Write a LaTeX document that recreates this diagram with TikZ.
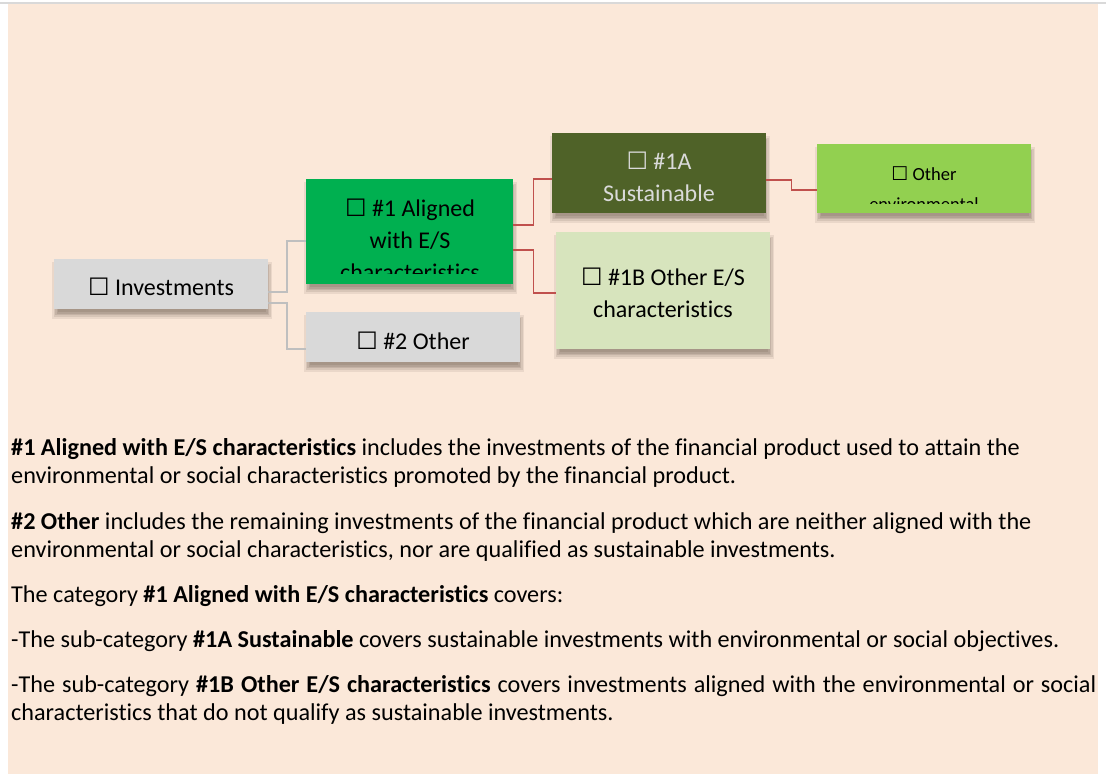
\documentclass[tikz,border=0pt]{standalone}
\usepackage{fontspec}
\setmainfont{Carlito}[Ligatures={NoCommon}]
\newfontfamily\symfont{DejaVu Sans}
\pgfdeclarelayer{bg}
\pgfdeclarelayer{shadow}
\pgfsetlayers{bg,shadow,main}
\definecolor{peach}{HTML}{FBE8D9}
\definecolor{topgrey}{HTML}{D9D9D9}
\definecolor{boxgrey}{HTML}{D9D9D9}
\definecolor{green1}{HTML}{00B050}
\definecolor{olive}{HTML}{4F6228}
\definecolor{paleg}{HTML}{D7E4BD}
\definecolor{limeg}{HTML}{92D050}
\definecolor{lightxt}{HTML}{DADADA}
\definecolor{gconn}{HTML}{BFBFBF}
\definecolor{rconn}{HTML}{C0504D}
\definecolor{shadowcol}{HTML}{5A4A40}
\newcommand{\cbx}{{\symfont\fontsize{24}{24}\selectfont\char"2610}}
\newcommand{\cbs}{{\symfont\fontsize{19}{19}\selectfont\char"2610}}
\newcommand{\shad}[1]{%
  \begin{pgfonlayer}{shadow}
  \fill[shadowcol,opacity=0.15] ([xshift=4pt,yshift=-9pt]#1.north west) rectangle ([xshift=-2pt,yshift=-3pt]#1.south east);
  \fill[shadowcol,opacity=0.15] ([xshift=2.5pt,yshift=-7.5pt]#1.north west) rectangle ([xshift=-0.5pt,yshift=-4.5pt]#1.south east);
  \fill[shadowcol,opacity=0.15] ([xshift=1pt,yshift=-6pt]#1.north west) rectangle ([xshift=1pt,yshift=-6pt]#1.south east);
  \fill[shadowcol,opacity=0.13] ([xshift=-0.5pt,yshift=-4.5pt]#1.north west) rectangle ([xshift=2.5pt,yshift=-7.5pt]#1.south east);
  \fill[shadowcol,opacity=0.1] ([xshift=-2pt,yshift=-3pt]#1.north west) rectangle ([xshift=4pt,yshift=-9.5pt]#1.south east);
  \end{pgfonlayer}}
\tikzset{
  box/.style={rectangle, inner sep=0pt, anchor=north west, draw=none},
  btxt/.style={inner sep=0pt, anchor=base, font=\fontsize{24}{28}\selectfont},
  stxt/.style={inner sep=0pt, anchor=base, font=\fontsize{18.5}{22}\selectfont},
  para/.style={inner sep=0pt, anchor=base west, font=\fontsize{24.2}{28}\selectfont},
  gline/.style={draw=gconn, line width=2pt},
  rline/.style={draw=rconn, line width=1.8pt},
}
\begin{document}
\begin{tikzpicture}[x=1pt,y=-1pt]
\useasboundingbox (0,0) rectangle (1106,776);
\begin{pgfonlayer}{bg}
\fill[white] (0,0) rectangle (1106,776);
\fill[topgrey] (0,1.7) rectangle (1106,4);
\fill[peach] (8,4) rectangle (1098,774);
\end{pgfonlayer}

% boxes
\node[box, fill=boxgrey, minimum width=214pt, minimum height=50pt] (inv) at (54,259) {};
\node[box, fill=green1, minimum width=207pt, minimum height=105pt] (a1) at (306,179) {};
\node[box, fill=boxgrey, minimum width=214pt, minimum height=50pt] (o2) at (306,312) {};
\node[box, fill=olive, minimum width=214pt, minimum height=80pt] (s1a) at (552,133) {};
\node[box, fill=paleg, minimum width=214pt, minimum height=117pt] (o1b) at (556,232) {};
\node[box, fill=limeg, minimum width=214pt, minimum height=69pt] (env) at (817,144) {};
\shad{inv}\shad{a1}\shad{o2}\shad{s1a}\shad{o1b}\shad{env}

% connectors
\draw[gline] ([yshift=-8pt]inv.east) -- ++(19,0) |- ([yshift=-9.5pt]a1.west);
\draw[gline] ([yshift=-19pt]inv.east) -- ++(19,0) |- ([yshift=-12pt]o2.west);
\draw[rline] ([yshift=6.5pt]a1.east) -- ++(20,0) |- ([yshift=-6pt]s1a.west);
\draw[rline] ([yshift=-18.5pt]a1.east) -- ++(20,0) |- ([yshift=-2.5pt]o1b.west);
\draw[rline] ([yshift=-7pt]s1a.east) -- ++(25,0) |- ([yshift=-11.5pt]env.west);

% box texts
\node[btxt] (tinv) at (161,295) {\cbx\ Investments};
\begin{scope}
\clip (306,179) rectangle (513,273);
\node[btxt] (ta1a) at (410,216) {\cbx\ \#1 Aligned};
\node[btxt] (ta1b) at (410,248) {with E/S};
\node[btxt] (ta1c) at (410,280) {characteristics};
\end{scope}
\node[btxt] (to2) at (413,349) {\cbx\ \#2 Other};
\node[btxt, text=lightxt] (ts1a) at (659,169) {\cbx\ \#1A};
\node[btxt, text=lightxt] (ts1b) at (659,201) {Sustainable};
\node[btxt] (to1ba) at (663,285) {\cbx\ \#1B Other E/S};
\node[btxt] (to1bb) at (663,317) {characteristics};
\begin{scope}
\clip (817,144) rectangle (1031,203.5);
\node[stxt] (tenva) at (924,180) {\cbs\ Other};
\node[stxt] (tenvb) at (924,210) {environmental};
\end{scope}

% paragraphs
\node[para] (p1) at (11,455) {\textbf{\#1 Aligned with E/S characteristics} includes the investments of the financial product used to attain the};
\node[para] (p2) at (11,483) {environmental or social characteristics promoted by the financial product.};
\node[para] (p3) at (11,529) {\textbf{\#2 Other} includes the remaining investments of the financial product which are neither aligned with the};
\node[para] (p4) at (11,557) {environmental or social characteristics, nor are qualified as sustainable investments.};
\node[para] (p5) at (11,602) {The category \textbf{\#1 Aligned with E/S characteristics} covers:};
\node[para] (p6) at (11,647) {-The sub-category \textbf{\#1A Sustainable} covers sustainable investments with environmental or social objectives.};
\node[para] (p7) at (11,692) {\makebox[1085pt][s]{-The sub-category \textbf{\#1B Other E/S characteristics} covers investments aligned with the environmental or social}};
\node[para] (p8) at (11,720) {characteristics that do not qualify as sustainable investments.};
\end{tikzpicture}
\end{document}
